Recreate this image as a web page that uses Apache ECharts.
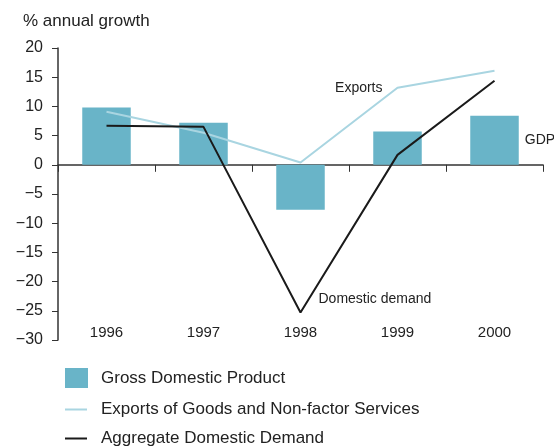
<!DOCTYPE html>
<html><head><meta charset="utf-8">
<script src="https://cdn.jsdelivr.net/npm/echarts@6/dist/echarts.min.js"></script>
<style>html,body{margin:0;padding:0;background:#fff}#c{width:554px;height:447px}</style>
</head><body><div id="c"></div>
<script>
const years = ['1996','1997','1998','1999','2000'];
const gdp = [9.8, 7.2, -7.7, 5.7, 8.4];
const exportsGrowth = [9.1, 5.5, 0.4, 13.2, 16.1];
const domesticDemand = [6.7, 6.5, -25.3, 1.7, 14.4];
const yTicks = {min: -30, max: 20, interval: 5};

const FONT = 'Liberation Sans';
const TXT = '#222';
const chart = echarts.init(document.getElementById('c'), null, {renderer: 'canvas'});

const gdpData = gdp.map((v, i) => i === 4 ? {value: v, label: {show: true, position: 'right', distance: 6, formatter: 'GDP', color: TXT, fontSize: 14, fontFamily: FONT}} : v);
const expData = exportsGrowth.map((v, i) => i === 3 ? {value: v, label: {show: true, position: 'left', distance: 15, formatter: 'Exports', color: TXT, fontSize: 14, fontFamily: FONT}} : v);
const ddData = domesticDemand.map((v, i) => i === 2 ? {value: v, label: {show: true, position: 'right', distance: 18, offset: [0, -13], formatter: 'Domestic demand', color: TXT, fontSize: 14, fontFamily: FONT}} : v);

chart.setOption({
  animation: false,
  textStyle: {fontFamily: FONT},
  title: {text: '% annual growth', left: 18, top: 8, textStyle: {fontSize: 17, fontWeight: 'normal', color: TXT, fontFamily: FONT}},
  grid: {left: 58, right: 11, top: 48, bottom: 107},
  legend: [
    {data: [{name: 'Gross Domestic Product', icon: 'rect'}], left: 60, top: 363, orient: 'vertical', itemWidth: 23, itemHeight: 20, textStyle: {fontSize: 17, color: TXT, padding: [0, 0, 0, 8]}},
    {data: [{name: 'Exports of Goods and Non-factor Services', icon: 'rect'}], left: 60, top: 396, orient: 'vertical', itemWidth: 22, itemHeight: 2, textStyle: {fontSize: 17, color: TXT, padding: [0, 0, 0, 9]}},
    {data: [{name: 'Aggregate Domestic Demand', icon: 'rect'}], left: 60, top: 425, orient: 'vertical', itemWidth: 22, itemHeight: 2, textStyle: {fontSize: 17, color: TXT, padding: [0, 0, 0, 9]}}
  ],
  xAxis: [
    {type: 'category', data: years, axisLine: {onZero: true, lineStyle: {color: '#333', width: 1.5}}, axisTick: {show: true, length: 7, lineStyle: {color: '#333'}}, axisLabel: {show: false}},
    {type: 'category', data: years, position: 'bottom', axisLine: {show: false}, axisTick: {show: false}, axisLabel: {inside: true, margin: 0, fontSize: 15, color: TXT}}
  ],
  yAxis: {type: 'value', min: yTicks.min, max: yTicks.max, interval: yTicks.interval,
    axisLine: {show: true, lineStyle: {color: '#333', width: 1.5}}, axisTick: {show: true, length: 6, lineStyle: {color: '#333'}},
    splitLine: {show: false},
    axisLabel: {fontSize: 16, color: TXT, margin: 15, formatter: v => String(v).replace('-', '\u2212')}},
  series: [
    {name: 'Gross Domestic Product', type: 'bar', data: gdpData, barWidth: '50%', itemStyle: {color: '#69b4c8'}},
    {name: 'Exports of Goods and Non-factor Services', type: 'line', data: expData, symbol: 'circle', symbolSize: 0, showSymbol: true, lineStyle: {color: '#a9d5e1', width: 2}, itemStyle: {color: '#a9d5e1'}},
    {name: 'Aggregate Domestic Demand', type: 'line', data: ddData, symbol: 'circle', symbolSize: 0, showSymbol: true, lineStyle: {color: '#1a1a1a', width: 2}, itemStyle: {color: '#1a1a1a'}}
  ]
});
</script></body></html>
